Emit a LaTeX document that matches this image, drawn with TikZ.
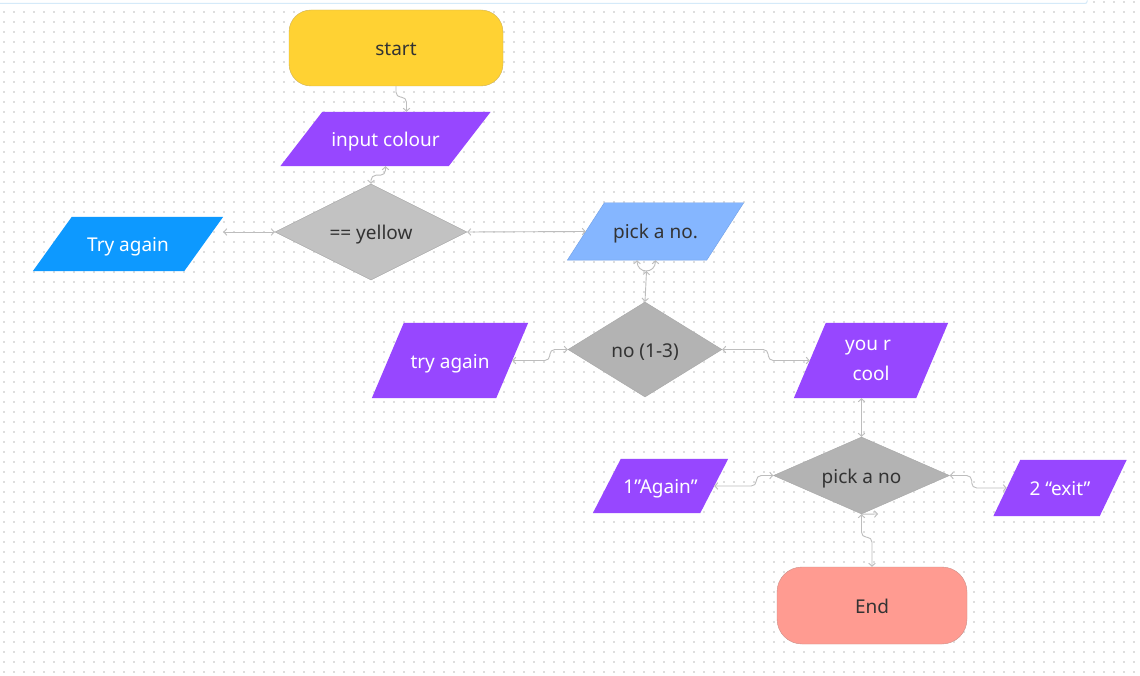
\documentclass[tikz,border=0pt]{standalone}
\usepackage{fontspec}
\setmainfont{Noto Sans}
\usetikzlibrary{arrows.meta,shapes.geometric,backgrounds}

\definecolor{startyellow}{HTML}{FFD233}
\definecolor{startline}{HTML}{CFB257}
\definecolor{iopurple}{HTML}{9747FF}
\definecolor{tryblue}{HTML}{0D99FF}
\definecolor{pickblue}{HTML}{85B6FF}
\definecolor{pickline}{HTML}{6F9FE6}
\definecolor{decgray}{HTML}{B3B3B3}
\definecolor{decgraylight}{HTML}{C2C2C2}
\definecolor{decline}{HTML}{A6A6A6}
\definecolor{endred}{HTML}{FF9B91}
\definecolor{endline}{HTML}{CC8F88}
\definecolor{textdark}{HTML}{333333}
\definecolor{linkgray}{HTML}{BDBDBD}
\definecolor{gridgray}{HTML}{DEDEDE}
\definecolor{framecyan}{HTML}{D5EAF9}

\begin{document}
\begin{tikzpicture}[x=1pt,y=-1pt,
		font=\fontsize{19}{22}\selectfont,
		>={Straight Barb[length=3pt,width=6.5pt]},
		oneline/.style={text height=19pt, text depth=4pt},
		terminal/.style={draw, inner sep=0pt, text=textdark, oneline},
		io/.style={inner sep=0pt, text=white, align=center},
		decision/.style={diamond, aspect=2, inner sep=0pt, fill=decgray, draw=decline, line width=0.4pt, text=textdark, oneline},
		link/.style={draw=linkgray, line width=0.9pt, rounded corners=5pt},
		gridrow/.style={gridgray, line width=1.2pt, dash pattern=on 1.2pt off 8.8pt}]
			\useasboundingbox (0,0) rectangle (1140,676);

			\node[terminal, fill=startyellow, draw=startline, rounded corners=22pt, minimum width=214, minimum height=76] (start) at (396,48) {start};
			\node[io, oneline, minimum width=168, minimum height=54] (input) at (385.5,139) {input colour};
			\node[decision, fill=decgraylight, minimum width=192, minimum height=96] (yellow) at (371,232) {== yellow};
			\node[io, oneline, minimum width=151, minimum height=54] (tryb) at (128,244) {Try again};
			\node[io, oneline, text=textdark, minimum width=139, minimum height=57] (pick) at (655.5,231.5) {pick a no.};
			\node[decision, minimum width=154, minimum height=95] (no13) at (645,349.5) {no (1-3)};
			\node[io, oneline, minimum width=124, minimum height=75] (trya) at (450,360.5) {try again};
			\node[io, minimum width=122, minimum height=75] (cool) at (871,360.5) {you r\hspace*{6pt}\\[8pt]cool};
			\node[decision, minimum width=176, minimum height=77] (pickno) at (861.5,475.5) {pick a no};
			\node[io, oneline, minimum width=107, minimum height=54] (again) at (660.5,486) {1”Again”};
			\node[io, oneline, minimum width=106, minimum height=56] (exit) at (1060,488) {2 “exit”};
			\node[terminal, fill=endred, draw=endline, rounded corners=25pt, minimum width=190, minimum height=77] (endn) at (872,605.5) {End};

			\begin{scope}[on background layer]
				\fill[white] (0,0) rectangle (1140,676);
				\foreach \gy in {2,12,...,672}
					\draw[gridrow] (3.4,\gy) -- (1140,\gy);
				\fill[white] (0,0) rectangle (1087,4);
				\draw[framecyan, line width=1pt] (0,3.5) -- (1084,3.5) .. controls (1086.5,3.5) .. (1087.5,0.5);

				\fill[iopurple] ([xshift=21pt]input.north west) -- ([xshift=21pt]input.north east) -- ([xshift=-21pt]input.south east) -- ([xshift=-21pt]input.south west) -- cycle;
				\fill[tryblue] ([xshift=19.5pt]tryb.north west) -- ([xshift=19.5pt]tryb.north east) -- ([xshift=-19.5pt]tryb.south east) -- ([xshift=-19.5pt]tryb.south west) -- cycle;
				\filldraw[fill=pickblue, draw=pickline, line width=0.4pt] ([xshift=18.5pt]pick.north west) -- ([xshift=18.5pt]pick.north east) -- ([xshift=-18.5pt]pick.south east) -- ([xshift=-18.5pt]pick.south west) -- cycle;
				\fill[iopurple] ([xshift=16pt]trya.north west) -- ([xshift=16pt]trya.north east) -- ([xshift=-16pt]trya.south east) -- ([xshift=-16pt]trya.south west) -- cycle;
				\fill[iopurple] ([xshift=16pt]cool.north west) -- ([xshift=16pt]cool.north east) -- ([xshift=-16pt]cool.south east) -- ([xshift=-16pt]cool.south west) -- cycle;
				\fill[iopurple] ([xshift=14pt]again.north west) -- ([xshift=14pt]again.north east) -- ([xshift=-14pt]again.south east) -- ([xshift=-14pt]again.south west) -- cycle;
				\fill[iopurple] ([xshift=13.5pt]exit.north west) -- ([xshift=13.5pt]exit.north east) -- ([xshift=-13.5pt]exit.south east) -- ([xshift=-13.5pt]exit.south west) -- cycle;
			\end{scope}

			\coordinate (trybcorner) at ([xshift=19.5pt]tryb.north east);
			\coordinate (inputtop) at ([xshift=21pt]input.north);
			\coordinate (pickloop) at ([xshift=-18.5pt]pick.south);
			\coordinate (loopbot) at (646.5,271);
			\coordinate (stub) at (878,514);

			\draw[link, ->] (start.south) -- ++(0,11) -| (inputtop);
			\draw[link, <->] (input.south) -- ++(0,9) -| (yellow.north);
			\draw[link, <->] (yellow.west) -- (yellow.west -| trybcorner);
			\draw[link, <->] (yellow.east) -- (pick.west);
			\draw[link, <->] (pickloop) .. controls +(0,14) and +(0,14) .. (pick.south);
			\draw[link, <->] (loopbot) -- (no13.north);
			\draw[link, <->] (no13.west) -- ++(-18,0) |- (trya.east);
			\draw[link, <->] (no13.east) -- ++(46,0) |- (cool.west);
			\draw[link, <->] (pickno.north |- cool.south) -- (pickno.north);
			\draw[link, <->] (pickno.west) -- ++(-17,0) |- (again.east);
			\draw[link, <->] (pickno.east) -- ++(22,0) |- (exit.west);
			\draw[link, <->] (pickno.south) -- ++(0,23) -| (endn.north);
			\draw[link, ->] (pickno.south) -- (stub);
		\end{tikzpicture}
\end{document}
